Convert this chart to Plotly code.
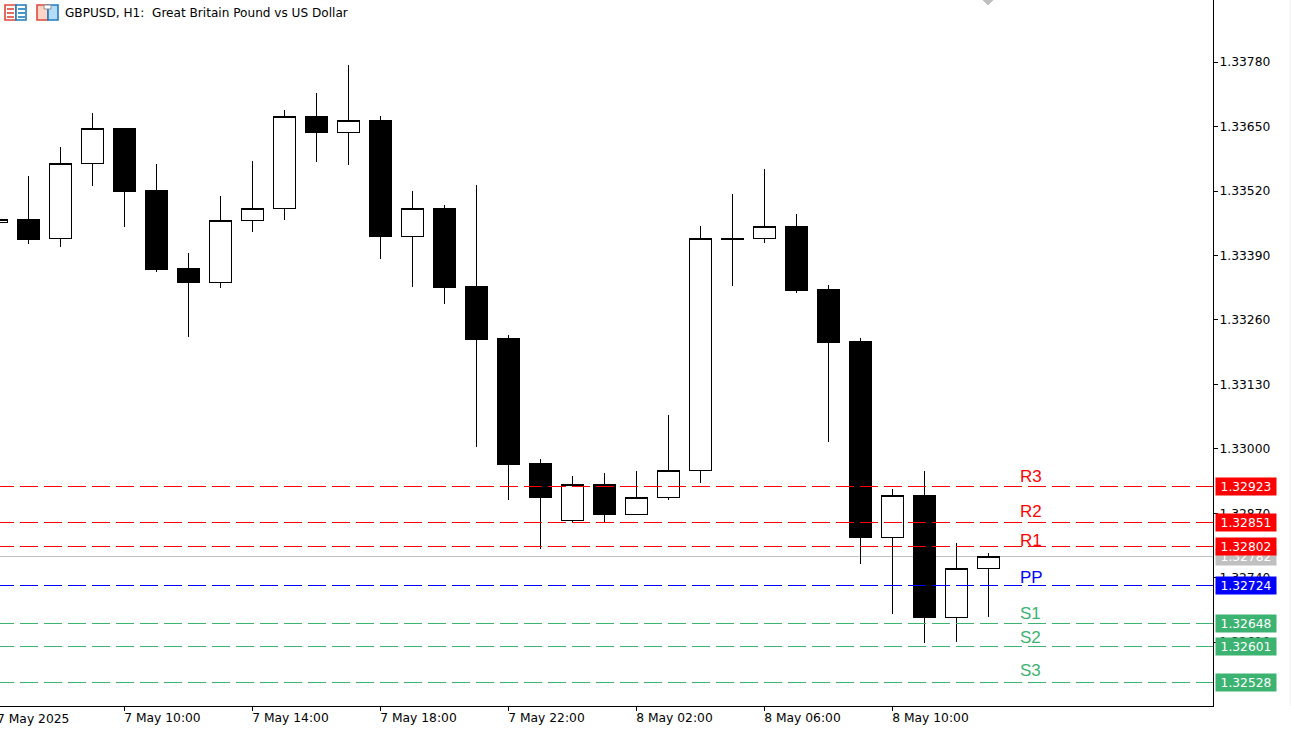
import plotly.graph_objects as go
import pandas as pd

# hourly bars
times = pd.date_range("2025-05-07 06:00", periods=32, freq="h")
opens = [1.33456, 1.33462, 1.33424, 1.33575, 1.33647, 1.33522, 1.33363, 1.33335,
         1.33460, 1.33484, 1.33670, 1.33639, 1.33662, 1.33428, 1.33484, 1.33327,
         1.33222, 1.32970, 1.32855, 1.32929, 1.32867, 1.32901, 1.32956, 1.33424,
         1.33424, 1.33448, 1.33321, 1.33216, 1.32822, 1.32905, 1.32659, 1.32758]
highs = [1.33462, 1.33551, 1.33609, 1.33678, 1.33647, 1.33575, 1.33395, 1.33510,
         1.33581, 1.33684, 1.33718, 1.33775, 1.33672, 1.33520, 1.33492, 1.33532,
         1.33230, 1.32980, 1.32946, 1.32952, 1.32956, 1.33069, 1.33450, 1.33514,
         1.33565, 1.33474, 1.33331, 1.33224, 1.32919, 1.32956, 1.32810, 1.32790]
lows = [1.33456, 1.33413, 1.33407, 1.33530, 1.33448, 1.33357, 1.33226, 1.33325,
        1.33438, 1.33462, 1.33579, 1.33573, 1.33383, 1.33327, 1.33292, 1.33004,
        1.32897, 1.32798, 1.32851, 1.32851, 1.32867, 1.32897, 1.32931, 1.33329,
        1.33416, 1.33315, 1.33014, 1.32768, 1.32667, 1.32609, 1.32611, 1.32661]
closes = [1.33462, 1.33422, 1.33575, 1.33647, 1.33520, 1.33361, 1.33335, 1.33460,
          1.33484, 1.33670, 1.33639, 1.33662, 1.33428, 1.33484, 1.33325, 1.33220,
          1.32968, 1.32901, 1.32929, 1.32867, 1.32901, 1.32956, 1.33424, 1.33422,
          1.33448, 1.33319, 1.33214, 1.32822, 1.32905, 1.32659, 1.32758, 1.32782]

# pivot levels
level_names = ["R3", "R2", "R1", "PP", "S1", "S2", "S3"]
level_values = [1.32923, 1.32851, 1.32802, 1.32724, 1.32648, 1.32601, 1.32528]
level_colors = ["#FF0000", "#FF0000", "#FF0000", "#0000FF", "#3CB371", "#3CB371", "#3CB371"]
name_prices = [1.32945, 1.32873, 1.32815, 1.32741, 1.32667, 1.32620, 1.32553]

last_price = 1.32782
price_ticks = [1.33780, 1.33650, 1.33520, 1.33390, 1.33260, 1.33130, 1.33000, 1.32870, 1.32740, 1.32610]
time_ticks = ["2025-05-07 10:00", "2025-05-07 14:00", "2025-05-07 18:00", "2025-05-07 22:00",
              "2025-05-08 02:00", "2025-05-08 06:00", "2025-05-08 10:00"]
time_labels = ["7 May 10:00", "7 May 14:00", "7 May 18:00", "7 May 22:00",
               "8 May 02:00", "8 May 06:00", "8 May 10:00"]

W, H = 1291, 732
PLOT_W, PLOT_H = 1213, 706
FONT = "DejaVu Sans"
LABEL_FONT = "Liberation Sans"


def px(x):
    return x / PLOT_W


def py(y):
    return 1 - y / PLOT_H


fig = go.Figure()

fig.add_trace(go.Candlestick(
    x=times, open=opens, high=highs, low=lows, close=closes,
    increasing=dict(line=dict(color="black", width=1), fillcolor="white"),
    decreasing=dict(line=dict(color="black", width=1), fillcolor="black"),
    whiskerwidth=0,
    showlegend=False,
))

x_end = "2025-05-08 20:01:52"
for name, value, color in zip(level_names, level_values, level_colors):
    fig.add_trace(go.Scatter(
        x=[times[0], x_end], y=[value, value], mode="lines", name=name,
        line=dict(color=color, width=1, dash="18px,6px"), showlegend=False,
    ))

# chart shift marker at the top
fig.add_trace(go.Scatter(
    x=[times[-1]], y=[1.33906], mode="markers", showlegend=False,
    marker=dict(symbol="diamond", size=9, color="#C0C0C0"),
))

fig.add_hline(y=last_price, line=dict(color="#C0C0C0", width=1), layer="below")

annotations = []
for name, price, color in zip(level_names, name_prices, level_colors):
    annotations.append(dict(
        x="2025-05-08 14:00", y=price, xref="x", yref="y", text=name, showarrow=False, xshift=-2,
        xanchor="left", yanchor="middle", font=dict(family=LABEL_FONT, size=17, color=color),
    ))

# price tags, the grey one goes first so the others sit on top of it
tag_values = [last_price] + level_values
tag_colors = ["#C0C0C0"] + level_colors
for value, color in zip(tag_values, tag_colors):
    annotations.append(dict(
        x=px(1215), y=value, xref="paper", yref="y", text=f"{value:.5f}", showarrow=False,
        xanchor="left", yanchor="middle", width=60, height=17, bgcolor=color, borderpad=0,
        align="center", font=dict(family=FONT, size=12.3, color="white"),
    ))

annotations.append(dict(
    x=px(63), y=py(13), xref="paper", yref="paper", showarrow=False, xanchor="left", yanchor="middle",
    text="GBPUSD, H1:  Great Britain Pound vs US Dollar", font=dict(family=FONT, size=12.1, color="black"),
))
annotations.append(dict(
    x=px(-5), y=py(719), xref="paper", yref="paper", showarrow=False, xanchor="left", yanchor="middle",
    text="7 May 2025", font=dict(family=FONT, size=12.3, color="black"),
))

shapes = []
# window icons in the title row
for x0, x1, line, fill in [(5, 16, "#E0483C", "#FFFFFF"), (16, 26, "#1E7DC0", "#FFFFFF"),
                           (37, 48, "#E0483C", "#FBD5C8"), (48, 58, "#1E7DC0", "#B5DCF7")]:
    shapes.append(dict(type="rect", xref="paper", yref="paper", x0=px(x0), x1=px(x1),
                       y0=py(5), y1=py(20), line=dict(color=line, width=1.6), fillcolor=fill))
for x0, x1, color in [(7, 14, "#E0483C"), (18, 25, "#1E7DC0")]:
    for y in [9, 13, 17]:
        shapes.append(dict(type="line", xref="paper", yref="paper", x0=px(x0), x1=px(x1),
                           y0=py(y), y1=py(y), line=dict(color=color, width=1.6)))
shapes.append(dict(type="rect", xref="paper", yref="paper", x0=px(44), x1=px(51), y0=py(5), y1=py(9),
                   line=dict(color="#909090", width=1), fillcolor="white"))
# window edge on the far right
shapes.append(dict(type="line", xref="paper", yref="paper", x0=px(1290), x1=px(1290), y0=0, y1=1,
                   line=dict(color="#F0F0F0", width=1)))
for s in shapes:
    fig.add_shape(**s)

fig.update_layout(
    width=W, height=H,
    margin=dict(l=0, r=W - PLOT_W, t=0, b=H - PLOT_H),
    paper_bgcolor="white", plot_bgcolor="white",
    annotations=annotations,
    showlegend=False,
    boxgap=0,
    font=dict(family=FONT, size=12.3, color="black"),
    xaxis=dict(
        type="date", range=["2025-05-07 06:06:40", "2025-05-08 20:01:02"], rangeslider=dict(visible=False),
        showgrid=False, zeroline=False, showline=True, linecolor="black", linewidth=1,
        ticks="outside", ticklen=4, tickcolor="black", tickvals=time_ticks, ticktext=time_labels,
        ticklabelshift=38, ticklabeloverflow="allow", ticklabelstandoff=-4,
        tickfont=dict(family=FONT, size=12.3),
    ),
    yaxis=dict(
        side="right", range=[1.324812, 1.339054], showgrid=False, zeroline=False,
        showline=True, linecolor="black", linewidth=1,
        ticks="outside", ticklen=4, tickcolor="black", tickvals=price_ticks, ticklabelstandoff=-1,
        ticktext=[f"{v:.5f}" for v in price_ticks], tickfont=dict(family=FONT, size=12.3),
    ),
)

crisp = ("document.body.style.margin='0';document.body.style.overflow='hidden';"
         "document.querySelectorAll('.scatterlayer path, .boxlayer path, .layer-below .shapelayer path').forEach(function(p){"
         "p.style.shapeRendering='crispEdges';});")
fig.write_html("out.html", post_script=crisp, config=dict(displayModeBar=False))
